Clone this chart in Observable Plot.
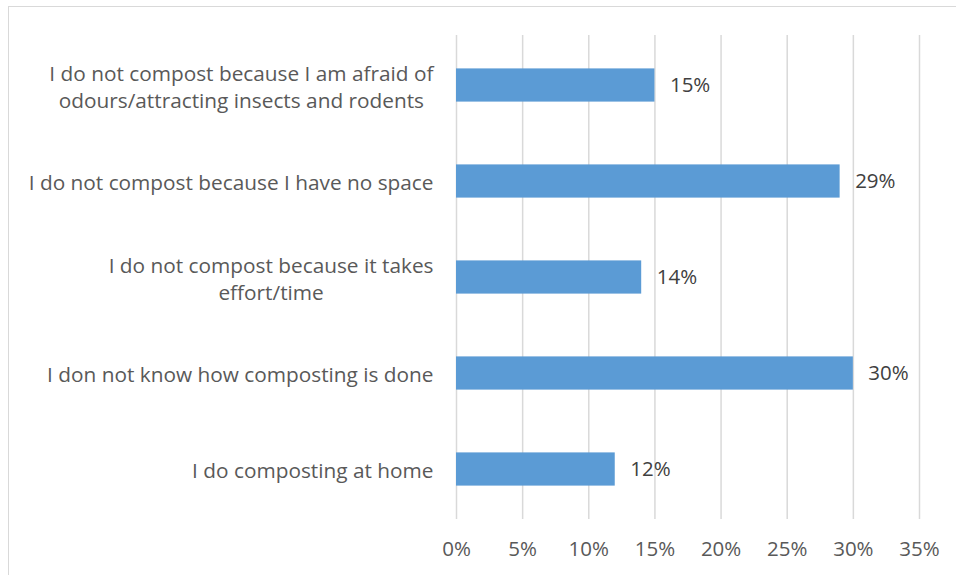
<!DOCTYPE html>
<html>
<head>
<meta charset="utf-8">
<script src="https://cdn.jsdelivr.net/npm/d3@7"></script>
<script src="https://cdn.jsdelivr.net/npm/@observablehq/plot@0.6"></script>
<style>
  html, body { margin: 0; padding: 0; background: #fff; overflow: hidden; }
  #wrap { position: relative; width: 956px; height: 575px; }
  #border { position: absolute; left: 8px; top: 6px; width: 960px; height: 590px; border: 1px solid #d9d9d9; box-sizing: border-box; }
  #chart { position: absolute; left: 0; top: 0; }
</style>
</head>
<body>
<div id="wrap"><div id="border"></div><div id="chart"></div></div>
<script>
const categories = [
  "I do not compost because I am afraid of\nodours/attracting insects and rodents",
  "I do not compost because I have no space",
  "I do not compost because it takes\neffort/time",
  "I don not know how composting is done",
  "I do composting at home"
];
const values = [15, 29, 14, 30, 12];
const xTicks = [0, 5, 10, 15, 20, 25, 30, 35];

const data = categories.map((c, i) => ({category: c, value: values[i]}));
const font = "'Open Sans', sans-serif";

const chart = Plot.plot({
  width: 956,
  height: 575,
  marginLeft: 456,
  marginRight: 37,
  marginTop: 35,
  marginBottom: 56,
  style: {fontFamily: font, background: "transparent"},
  x: {domain: [0, 35], ticks: xTicks, label: null},
  y: {domain: categories, padding: 0, label: null},
  marks: [
    Plot.gridX(xTicks, {stroke: "#d9d9d9", strokeOpacity: 1, strokeWidth: 1.5}),
    Plot.barX(data, {y: "category", x: "value", fill: "#5b9bd5", insetTop: 31.4, insetBottom: 31.4}),
    Plot.text(data, {y: "category", x: "value", text: d => d.value + "%", textAnchor: "start", dx: 15, fontSize: 20.5, fill: "#404040"}),
    Plot.axisX({ticks: xTicks, tickFormat: d => d + "%", tickSize: 0, tickPadding: 22, fontSize: 20.5, fill: "#595959", label: null}),
    Plot.axisY({tickSize: 0, tickPadding: 23, fontSize: 20.8, lineHeight: 1.32, fill: "#595959", label: null})
  ]
});
document.getElementById("chart").appendChild(chart);

// Center wrapped lines within a right-aligned block (as in the original)
chart.querySelectorAll('g[aria-label="y-axis tick label"] text').forEach(t => {
  const spans = t.querySelectorAll("tspan");
  if (spans.length < 2) return;
  let maxW = 0;
  spans.forEach(s => { maxW = Math.max(maxW, s.getComputedTextLength()); });
  t.setAttribute("text-anchor", "middle");
  spans.forEach(s => s.setAttribute("x", -maxW / 2));
});
</script>
</body>
</html>
